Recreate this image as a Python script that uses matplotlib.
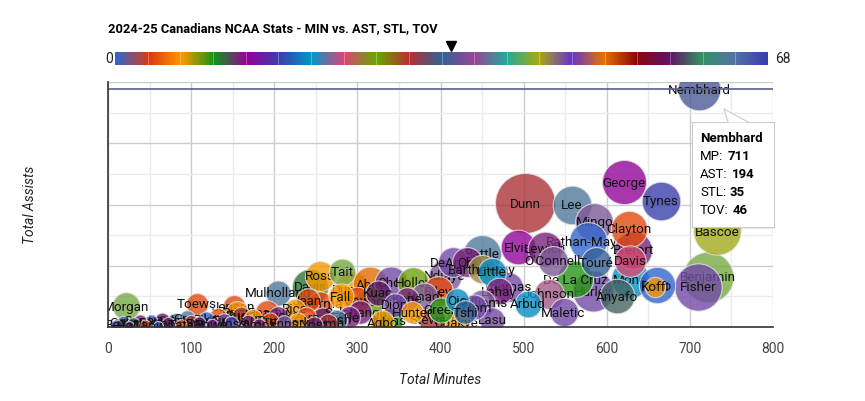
import matplotlib
matplotlib.use('Agg')
import matplotlib.pyplot as plt
import numpy as np
from matplotlib import font_manager
from matplotlib.colors import LinearSegmentedColormap, Normalize
from matplotlib.patches import Rectangle, Polygon

# ---------------- data ----------------
names = ["Nembhard", "Dunn", "Lee", "George", "Tynes", "Clayton", "Mingo", "Bascoe", "Benjamin", "Fisher",
         "Koffi", "Ferro", "Hurley", "Anyafo", "Mone", "De La Cruz", "Johnson", "Maletic", "Elvis", "Lewich",
         "Rathan-Mayes", "Brefort", "O'Connell", "Davis", "Touré", "Battle", "Barthelemy", "DeAnda", "Obi", "Little",
         "Riley", "Holley", "Lahay", "Williams", "Arbud", "Thomas", "Lasu", "Boakye", "Davis", "Dumel",
         "Abdi", "Mulholland", "Sharma", "Talbot", "Jensen", "Toews", "Morgan", "Beatty", "Price", "Selabangue",
         "Lecours", "Nielsen", "Hunter", "Stewart", "Kone", "Ross", "Tait", "Chol", "Ndiaye", "Fall",
         "Sow", "Kuac", "Diop", "Amadi", "Ojo", "Tshi", "Bile", "Agbo", "Mims", "Jean",
         "Rice", "Bell", "Cole", "Hall", "Kerr", "Pope", "Ward", "Reid", "Lowe", "Dent",
         "Knox", "Shaw", "Tate", "Gray", "Hunt", "Park", "Pike", "Rowe", "Lund", "Finn",
         "Moss", "Rudd", "Vale", "Wynn", "Amos", "Cruz", "Dyck", "Enns", "Bork", "Zorn",
         "Yost", "Lamb", "Nash", "Green", "Odom"]
minutes = [711, 502, 558, 621, 665, 627, 585, 733, 722, 710,
           658, 660, 583, 612, 628, 562, 530, 548, 493, 526,
           578, 632, 535, 628, 587, 450, 450, 415, 432, 462,
           397, 367, 470, 450, 505, 481, 462, 420, 243, 293,
           315, 205, 255, 315, 151, 107, 22, 191, 155, 303,
           259, 218, 366, 390, 360, 255, 282, 340, 405, 280,
           300, 325, 345, 380, 420, 430, 290, 330, 339, 240,
           225, 10, 18, 25, 30, 38, 45, 52, 60, 65,
           72, 80, 88, 95, 100, 110, 118, 125, 132, 140,
           148, 160, 168, 175, 182, 195, 205, 212, 228, 238,
           248, 265, 275, 400, 440]
assists = [194, 101, 100, 118, 103, 80, 86, 78, 41, 33,
           33, 34, 29, 25, 39, 39, 27, 12, 65, 64,
           70, 63, 54, 54, 53, 60, 47, 53, 53, 45,
           29, 36, 29, 20, 19, 33, 6, 4, 33, 31,
           35, 28, 19, 21, 17, 19, 17, 12, 12, 12,
           6, 6, 12, 6, 23, 42, 45, 36, 42, 25,
           22, 28, 18, 25, 22, 12, 8, 4, 5, 22,
           15, 2, 4, 1, 3, 5, 2, 4, 1, 6,
           3, 5, 2, 7, 4, 3, 6, 2, 8, 5,
           3, 9, 4, 7, 2, 5, 9, 3, 4, 8,
           2, 3, 6, 14, 16]
steals = [35, 31, 64, 14, 68, 4, 38, 44, 43, 47,
          7, 0, 47, 60, 20, 10, 23, 47, 14, 13,
          0, 13, 38, 24, 34, 64, 45, 47, 13, 20,
          4, 27, 13, 38, 20, 47, 47, 7, 11, 7,
          51, 64, 4, 27, 4, 4, 43, 4, 7, 13,
          58, 38, 7, 31, 13, 7, 43, 47, 38, 7,
          4, 58, 47, 38, 20, 34, 13, 7, 10, 4,
          7, 68, 0, 58, 34, 13, 4, 68, 0, 58,
          13, 34, 4, 64, 31, 58, 0, 13, 4, 47,
          68, 31, 13, 7, 58, 4, 13, 38, 7, 4,
          58, 31, 64, 10, 47]
turnovers = [46, 68, 41, 48, 41, 38, 40, 52, 56, 52,
             18, 38, 44, 36, 40, 38, 30, 28, 36, 36,
             40, 40, 30, 32, 30, 40, 28, 30, 30, 28,
             30, 32, 26, 26, 26, 30, 24, 24, 38, 36,
             36, 24, 24, 28, 20, 20, 27, 22, 20, 22,
             24, 20, 20, 26, 22, 30, 26, 34, 34, 24,
             26, 24, 22, 26, 22, 22, 20, 22, 24, 22,
             18, 6, 8, 5, 7, 9, 6, 10, 5, 11,
             8, 12, 7, 12, 10, 9, 14, 8, 15, 12,
             10, 16, 11, 15, 9, 14, 17, 12, 16, 18,
             14, 16, 18, 24, 24]

palette = ['#3366cc', '#dc3912', '#ff9900', '#109618', '#990099', '#3b3eac', '#0099c6',
           '#dd4477', '#66aa00', '#b82e2e', '#316395', '#994499', '#22aa99', '#aaaa11',
           '#6633cc', '#e67300', '#8b0707', '#651067', '#329262', '#5574a6', '#3b3eac']
x_ticks = [0, 100, 200, 300, 400, 500, 600, 700, 800]
focus_name = "Nembhard"

# ---------------- fonts ----------------
def pick(cands):
    for c in cands:
        try:
            font_manager.findfont(font_manager.FontProperties(family=c), fallback_to_default=False)
            return c
        except Exception:
            continue
    return 'DejaVu Sans'

FONT = pick(['Roboto', 'Liberation Sans', 'DejaVu Sans'])
plt.rcParams['font.family'] = [FONT, 'DejaVu Sans']

W, H = 865, 402
fig = plt.figure(figsize=(W / 100, H / 100), dpi=100)
fig.patch.set_facecolor('white')

def fx(px):
    return px / W

def fy(py):
    return 1 - py / H

L, R, T, B = 108, 773, 83, 328
ax = fig.add_axes([fx(L), fy(B), (R - L) / W, (B - T) / H])
ax.set_xlim(0, 800)
ax.set_ylim(0, 200)
ax.set_xticks(x_ticks)
ax.set_xticks(np.arange(50, 800, 100), minor=True)
ax.set_yticks(np.arange(0, 201, 50))
ax.set_yticks(np.arange(25, 200, 50), minor=True)
ax.grid(which='major', color='#cccccc', lw=1)
ax.grid(which='minor', color='#ebebeb', lw=1)
ax.set_axisbelow(True)
ax.tick_params(axis='both', which='both', length=0)
ax.tick_params(axis='x', labelsize=10, labelcolor='#444444', pad=10)
ax.set_yticklabels([])
for s in ['top', 'right']:
    ax.spines[s].set_visible(False)
for s in ['left', 'bottom']:
    ax.spines[s].set_color('#333333')
    ax.spines[s].set_linewidth(1.2)
    ax.spines[s].set_zorder(5000)

cmap = LinearSegmentedColormap.from_list('gchart', palette)
norm = Normalize(vmin=min(steals), vmax=max(steals))
tmin, tmax = min(turnovers), max(turnovers)

def radius_px(t):
    return 5 + 25 * (t - tmin) / (tmax - tmin)

order = sorted(range(len(names)), key=lambda i: -turnovers[i])
for k, i in enumerate(order):
    r = radius_px(turnovers[i])
    s = (2 * r * 0.72) ** 2
    ax.scatter([minutes[i]], [assists[i]], s=s, color=cmap(norm(steals[i])), alpha=0.8,
               edgecolors='#e4e4e4', linewidths=0.8, zorder=10 + 2 * k)
    ax.text(minutes[i], assists[i], names[i], ha='center', va='center', fontsize=9.7,
            color='#111111', zorder=11 + 2 * k, clip_on=True)

fi = names.index(focus_name)
ax.axhline(assists[fi], color='#5b5f87', lw=1.2, zorder=4000)

ax.set_xlabel('Total Minutes', fontsize=10, style='italic', color='#222222', labelpad=12)
fig.text(fx(30), fy(205), 'Total Assists', rotation=90, ha='center', va='center',
         fontsize=10, style='italic', color='#222222')

# title
fig.text(fx(108), fy(29), '2024-25 Canadians NCAA Stats - MIN vs. AST, STL, TOV', ha='left',
         va='center', fontsize=9.3, fontweight='bold', color='#000000')

# color axis
cax = fig.add_axes([fx(115), fy(66), (768 - 115) / W, 13 / H])
vmin, vmax = min(steals), max(steals)
grad = np.linspace(0, 1, 800).reshape(1, -1)
cax.imshow(grad, aspect='auto', cmap=cmap, extent=[vmin, vmax, 0, 1])
for j in range(1, len(palette) - 1):
    cax.axvline(vmin + (vmax - vmin) * j / (len(palette) - 1), color='white', lw=0.6, alpha=0.35)
cax.set_xlim(vmin, vmax)
cax.set_ylim(0, 1)
cax.axis('off')
cax.plot([steals[fi]], [1.45], marker='v', color='black', markersize=7, clip_on=False)
fig.text(fx(113), fy(59), '%d' % vmin, ha='right', va='center', fontsize=10, color='#222222')
fig.text(fx(775), fy(59), '%d' % vmax, ha='left', va='center', fontsize=10, color='#222222')

# tooltip
bx0, by0, bx1, by1 = 692, 123, 774, 228
shadow = Rectangle((fx(bx0 + 1), fy(by1 + 2)), (bx1 - bx0) / W, (by1 - by0) / H,
                   transform=fig.transFigure, facecolor='#000000', alpha=0.08, edgecolor='none', zorder=20)
fig.add_artist(shadow)
box = Rectangle((fx(bx0), fy(by1)), (bx1 - bx0) / W, (by1 - by0) / H, transform=fig.transFigure,
                facecolor='white', edgecolor='#cccccc', lw=0.8, zorder=21)
fig.add_artist(box)
tail = Polygon([(fx(724), fy(110)), (fx(728), fy(123.5)), (fx(748), fy(123.5))], closed=True,
               transform=fig.transFigure, facecolor='white', edgecolor='none', zorder=22)
fig.add_artist(tail)
fig.add_artist(plt.Line2D([fx(724), fx(728)], [fy(110), fy(123)], transform=fig.transFigure,
                          color='#cccccc', lw=0.8, zorder=23))
fig.add_artist(plt.Line2D([fx(724), fx(748)], [fy(110), fy(123)], transform=fig.transFigure,
                          color='#cccccc', lw=0.8, zorder=23))

tip_fs = 9.5
fig.text(fx(700), fy(139), names[fi], ha='left', va='center', fontsize=tip_fs, fontweight='bold',
         color='#000000', zorder=30)
rows = [('MP:', minutes[fi]), ('AST:', assists[fi]), ('STL:', steals[fi]), ('TOV:', turnovers[fi])]
labels = []
for n, (lab, val) in enumerate(rows):
    yy = 157 + 18 * n
    t = fig.text(fx(700), fy(yy), lab, ha='left', va='center', fontsize=tip_fs, color='#000000', zorder=30)
    labels.append((t, val, yy))
fig.canvas.draw()
rend = fig.canvas.get_renderer()
for t, val, yy in labels:
    bb = t.get_window_extent(renderer=rend)
    fig.text(fx(bb.x1 + 4), fy(yy), '%d' % val, ha='left', va='center', fontsize=tip_fs,
             fontweight='bold', color='#000000', zorder=30)

fig.savefig('out.png', dpi=100)
